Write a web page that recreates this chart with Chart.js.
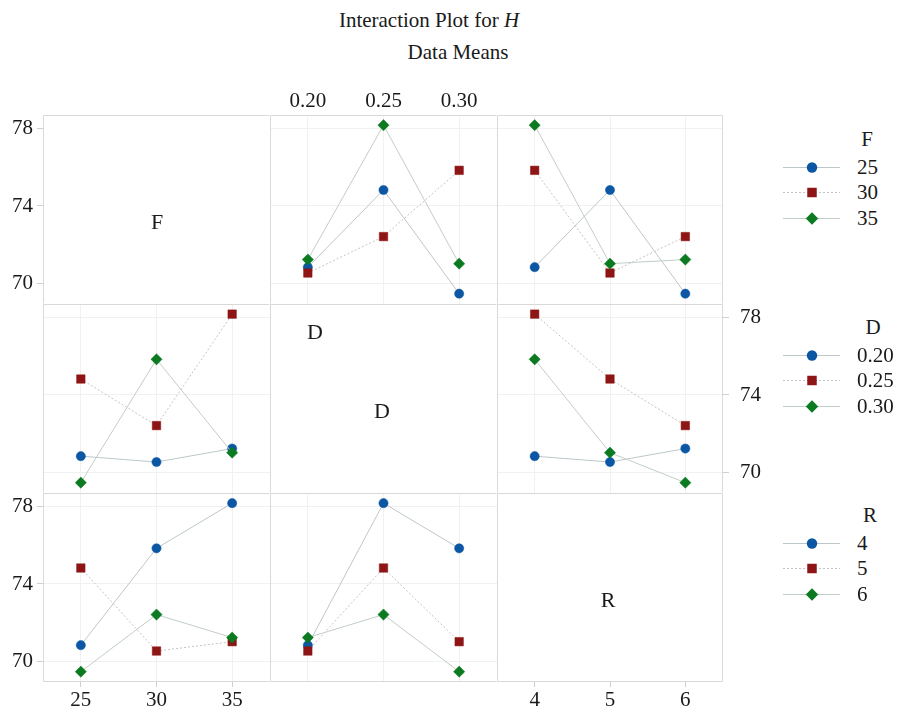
<!DOCTYPE html>
<html>
<head>
<meta charset="utf-8">
<script src="https://cdn.jsdelivr.net/npm/chart.js@4.4.1/dist/chart.umd.min.js"></script>
<style>
  body { margin: 0; width: 901px; height: 711px; position: relative; overflow: hidden; background: #fff;
         font-family: "Liberation Serif", "Times New Roman", serif; color: #1a1a1a; }
  canvas { position: absolute; }
  .txt { position: absolute; white-space: nowrap; transform: translate(-50%, -50%); font-size: 21px; line-height: 1; }
  .lbl { position: absolute; white-space: nowrap; transform: translateY(-50%); font-size: 21px; line-height: 1; }
  svg { position: absolute; }
</style>
</head>
<body>
<div class="txt" style="left:429px;top:20px">Interaction Plot for <i>H</i></div>
<div class="txt" style="left:458px;top:52px">Data Means</div>

<script>
// ---- factors and levels ----
const factorNames = ['F', 'D', 'R'];
const fLevels = ['25', '30', '35'];
const dLevels = ['0.20', '0.25', '0.30'];
const rLevels = ['4', '5', '6'];
const factorLevels = [fLevels, dLevels, rLevels];

// ---- the nine runs (level index of F, D, R) and the measured response H ----
const runF = [0, 0, 0, 1, 1, 1, 2, 2, 2];
const runD = [0, 1, 2, 0, 1, 2, 0, 1, 2];
const runR = [0, 1, 2, 1, 2, 0, 2, 0, 1];
const runH = [70.86, 74.82, 69.50, 70.56, 72.43, 75.83, 71.25, 78.15, 71.04];
const runLevels = [runF, runD, runR];

// ---- shared y axis ----
const yTicks = [70, 74, 78];
const Y_MIN = 68.97, Y_MAX = 78.67;

// ---- styling ----
const FONT = { family: '"Liberation Serif", "Times New Roman", serif', size: 21 };
const INK = '#1a1a1a';
const GRID = '#f1f1f1';
const FRAME = '#d9d9d9';
const TICK = '#cfcfcf';
const seriesStyle = [
  { color: '#0b57a4', line: '#bcc7ca', dash: [],     shape: 'circle',  radius: 4.6 },
  { color: '#8e1515', line: '#c9c1c1', dash: [2, 2], shape: 'rect',    radius: 6.0 },
  { color: '#0b7a20', line: '#c1cec5', dash: [],     shape: 'rectRot', radius: 5.6 }
];

// ---- panel grid ----
const colX = [43, 270, 497, 723];
const rowY = [115, 304, 493, 682];
const AX_L = 43, AX_R = 60, AX_T = 40, AX_B = 29;

function cellMean(traceF, traceLvl, xF, xLvl) {
  let s = 0, n = 0;
  for (let i = 0; i < runH.length; i++) {
    if (runLevels[traceF][i] === traceLvl && runLevels[xF][i] === xLvl) { s += runH[i]; n++; }
  }
  return n ? s / n : null;
}

// panels share their edges, so each one strokes only its own left/top (plus outer right/bottom)
const framePlugin = {
  id: 'panelFrame',
  beforeDatasetsDraw(chart, args, opts) {
    const a = chart.chartArea, ctx = chart.ctx;
    ctx.save();
    ctx.strokeStyle = FRAME;
    ctx.lineWidth = 1;
    ctx.beginPath();
    const l = Math.round(a.left) + 0.5, t = Math.round(a.top) + 0.5;
    const r = Math.round(a.right) - 0.5, b = Math.round(a.bottom) - 0.5;
    ctx.moveTo(l, b); ctx.lineTo(l, t); ctx.lineTo(r, t);
    if (opts.right) { ctx.moveTo(r, t); ctx.lineTo(r, b); }
    if (opts.bottom) { ctx.moveTo(l, b); ctx.lineTo(r, b); }
    ctx.stroke();
    ctx.restore();
  }
};

function noPadding(s) {
  s.paddingTop = 0; s.paddingBottom = 0; s.paddingLeft = 0; s.paddingRight = 0;
}

function makePanel(r, c) {
  const diag = r === c;
  const hasLeft = (r === 0 || r === 2) && c === 0;
  const hasRight = r === 1 && c === 2;
  const hasTop = r === 0 && c === 1;
  const hasBottom = r === 2 && (c === 0 || c === 2);
  const L = hasLeft ? AX_L : 0, R = hasRight ? AX_R : 0;
  const T = hasTop ? AX_T : 0, B = hasBottom ? AX_B : 0;
  const pw = colX[c + 1] - colX[c], ph = rowY[r + 1] - rowY[r];

  const cv = document.createElement('canvas');
  cv.width = pw + L + R; cv.height = ph + T + B;
  cv.style.left = (colX[c] - L) + 'px';
  cv.style.top = (rowY[r] - T) + 'px';
  document.body.appendChild(cv);

  const xLabels = factorLevels[c];
  const datasets = [];
  if (!diag) {
    factorLevels[r].forEach((lvlName, li) => {
      const st = seriesStyle[li];
      datasets.push({
        label: lvlName,
        data: xLabels.map((_, xi) => cellMean(r, li, c, xi)),
        borderColor: st.line,
        borderWidth: 1,
        borderDash: st.dash,
        backgroundColor: st.color,
        pointBackgroundColor: st.color,
        pointBorderColor: st.color,
        pointBorderWidth: 0.5,
        pointStyle: st.shape,
        pointRadius: st.radius,
        pointHoverRadius: st.radius,
        tension: 0,
        clip: false,
        order: 2 - li
      });
    });
  }
  const hasY = hasLeft || hasRight;
  const hasX = hasTop || hasBottom;

  new Chart(cv, {
    type: 'line',
    data: { labels: xLabels, datasets },
    plugins: [framePlugin],
    options: {
      responsive: false,
      devicePixelRatio: 1,
      animation: false,
      events: [],
      layout: { autoPadding: false, padding: 0 },
      plugins: {
        legend: { display: false },
        tooltip: { enabled: false },
        panelFrame: { right: c === 2, bottom: r === 2 }
      },
      scales: {
        x: {
          type: 'category',
          position: hasTop ? 'top' : 'bottom',
          offset: true,
          ticks: { display: hasX, font: FONT, color: INK, padding: 1, maxRotation: 0, autoSkip: false },
          grid: { color: diag ? 'rgba(0,0,0,0)' : GRID, offset: false, drawTicks: hasX,
                  tickLength: hasTop ? 0 : 5, tickColor: TICK },
          border: { display: false },
          afterFit: s => { s.height = hasTop ? AX_T : (hasBottom ? AX_B : 0); noPadding(s); }
        },
        y: {
          type: 'linear',
          position: hasRight ? 'right' : 'left',
          min: Y_MIN, max: Y_MAX,
          afterBuildTicks: s => { s.ticks = yTicks.map(v => ({ value: v })); },
          ticks: { display: hasY, font: FONT, color: INK, padding: hasRight ? 11 : 4 },
          grid: { color: diag ? 'rgba(0,0,0,0)' : GRID, drawTicks: hasY, tickLength: 6, tickColor: TICK },
          border: { display: false },
          afterFit: s => { s.width = hasLeft ? AX_L : (hasRight ? AX_R : 0); noPadding(s); }
        }
      }
    }
  });
}

for (let r = 0; r < 3; r++) for (let c = 0; c < 3; c++) makePanel(r, c);

// ---- factor names on the diagonal ----
const diagText = [
  { t: factorNames[0], x: 157, y: 222 },
  { t: factorNames[1], x: 315, y: 332 },
  { t: factorNames[1], x: 382, y: 411 },
  { t: factorNames[2], x: 608, y: 600 }
];
diagText.forEach(d => {
  const el = document.createElement('div');
  el.className = 'txt';
  el.style.left = d.x + 'px'; el.style.top = d.y + 'px';
  el.style.fontSize = '22px';
  el.textContent = d.t;
  document.body.appendChild(el);
});

// ---- legends, one per trace factor ----
const legendTitleY = [139, 327, 515];
const legendTitleX = [867, 873, 870];
const legendItemDy = [27.5, 52.5, 78.5];
const SVGNS = 'http://www.w3.org/2000/svg';
factorNames.forEach((name, fi) => {
  const title = document.createElement('div');
  title.className = 'txt';
  title.style.left = legendTitleX[fi] + 'px';
  title.style.top = legendTitleY[fi] + 'px';
  title.textContent = name;
  document.body.appendChild(title);
  factorLevels[fi].forEach((lvl, li) => {
    const st = seriesStyle[li];
    const cy = legendTitleY[fi] + legendItemDy[li];
    const svg = document.createElementNS(SVGNS, 'svg');
    svg.setAttribute('width', 60); svg.setAttribute('height', 16);
    svg.style.left = '782px'; svg.style.top = (cy - 8) + 'px';
    const ln = document.createElementNS(SVGNS, 'line');
    ln.setAttribute('x1', 1); ln.setAttribute('x2', 58); ln.setAttribute('y1', 8.5); ln.setAttribute('y2', 8.5);
    ln.setAttribute('stroke', st.line); ln.setAttribute('stroke-width', 1);
    if (st.dash.length) ln.setAttribute('stroke-dasharray', st.dash.join(' '));
    svg.appendChild(ln);
    let mk;
    const mx = 30, my = 8.5;
    if (st.shape === 'circle') {
      mk = document.createElementNS(SVGNS, 'circle');
      mk.setAttribute('cx', mx); mk.setAttribute('cy', my); mk.setAttribute('r', st.radius + 0.6);
    } else if (st.shape === 'rect') {
      const h = st.radius * Math.SQRT1_2 + 0.5;
      mk = document.createElementNS(SVGNS, 'rect');
      mk.setAttribute('x', mx - h); mk.setAttribute('y', my - h);
      mk.setAttribute('width', 2 * h); mk.setAttribute('height', 2 * h);
    } else {
      const q = st.radius + 0.6;
      mk = document.createElementNS(SVGNS, 'polygon');
      mk.setAttribute('points', `${mx},${my - q} ${mx + q},${my} ${mx},${my + q} ${mx - q},${my}`);
    }
    mk.setAttribute('fill', st.color);
    svg.appendChild(mk);
    document.body.appendChild(svg);
    const lab = document.createElement('div');
    lab.className = 'lbl';
    lab.style.left = '857px'; lab.style.top = cy + 'px';
    lab.textContent = lvl;
    document.body.appendChild(lab);
  });
});
</script>
</body>
</html>
